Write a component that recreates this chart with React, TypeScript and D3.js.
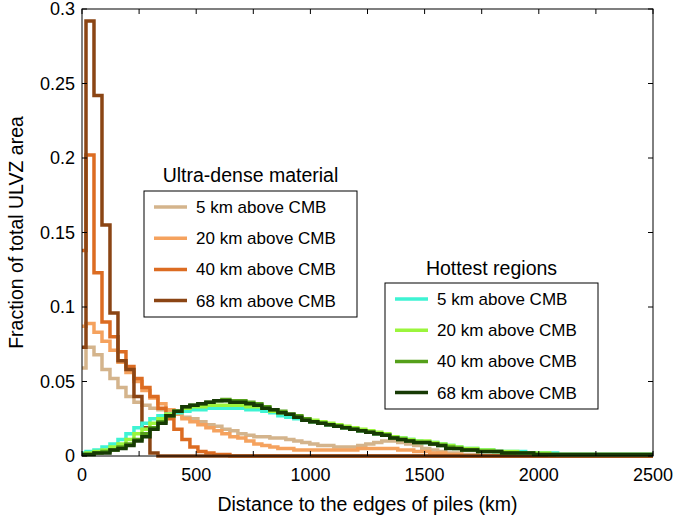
import React from "react";
import * as d3 from "d3";

// Histogram bins (km): centres every 35 km
const binWidth = 35;
const binCenters = d3.range(0, 2500, binWidth);

// Ultra-dense material
const ultra5 = [
  0.059, 0.073, 0.068, 0.058, 0.052, 0.046, 0.040, 0.036, 0.034, 0.032,
  0.031, 0.029, 0.028, 0.026, 0.025, 0.023, 0.021, 0.020, 0.018, 0.017,
  0.015, 0.014, 0.013, 0.013, 0.012, 0.012, 0.011, 0.010, 0.009, 0.008,
  0.007, 0.007, 0.006, 0.006, 0.006, 0.007, 0.008, 0.009, 0.010, 0.010,
  0.009, 0.008, 0.007, 0.005, 0.004, 0.003, 0.002, 0.002, 0.001, 0.001,
  0, 0, 0, 0, 0, 0, 0, 0, 0, 0,
  0, 0, 0, 0, 0, 0, 0, 0, 0, 0,
  0, 0,
];
const ultra20 = [
  0.087, 0.089, 0.083, 0.077, 0.071, 0.063, 0.056, 0.050, 0.044, 0.039,
  0.035, 0.031, 0.028, 0.025, 0.023, 0.021, 0.019, 0.017, 0.015, 0.013,
  0.012, 0.010, 0.008, 0.007, 0.006, 0.005, 0.005, 0.004, 0.004, 0.004,
  0.004, 0.004, 0.004, 0.004, 0.004, 0.005, 0.005, 0.005, 0.005, 0.005,
  0.004, 0.004, 0.003, 0.003, 0.002, 0.002, 0.001, 0.001, 0, 0,
  0, 0, 0, 0, 0, 0, 0, 0, 0, 0,
  0, 0, 0, 0, 0, 0, 0, 0, 0, 0,
  0, 0,
];
const ultra40 = [
  0.138, 0.202, 0.123, 0.090, 0.080, 0.070, 0.060, 0.052, 0.046, 0.040,
  0.032, 0.025, 0.018, 0.011, 0.006, 0.003, 0.002, 0.001, 0.001, 0,
  0, 0, 0, 0, 0, 0, 0, 0, 0, 0,
  0, 0, 0, 0, 0, 0, 0, 0, 0, 0,
  0, 0, 0, 0, 0, 0, 0, 0, 0, 0,
  0, 0, 0, 0, 0, 0, 0, 0, 0, 0,
  0, 0, 0, 0, 0, 0, 0, 0, 0, 0,
  0, 0,
];
const ultra68 = [
  0.073, 0.292, 0.242, 0.155, 0.096, 0.064, 0.058, 0.040, 0.019, 0.002,
  0, 0, 0, 0, 0, 0, 0, 0, 0, 0,
  0, 0, 0, 0, 0, 0, 0, 0, 0, 0,
  0, 0, 0, 0, 0, 0, 0, 0, 0, 0,
  0, 0, 0, 0, 0, 0, 0, 0, 0, 0,
  0, 0, 0, 0, 0, 0, 0, 0, 0, 0,
  0, 0, 0, 0, 0, 0, 0, 0, 0, 0,
  0, 0,
];

// Hottest regions
const hot5 = [
  0.002, 0.003, 0.004, 0.006, 0.008, 0.011, 0.015, 0.019, 0.022, 0.025,
  0.027, 0.028, 0.029, 0.030, 0.031, 0.031, 0.032, 0.032, 0.032, 0.032,
  0.032, 0.031, 0.031, 0.030, 0.029, 0.027, 0.026, 0.025, 0.024, 0.023,
  0.022, 0.021, 0.020, 0.019, 0.018, 0.017, 0.016, 0.015, 0.014, 0.013,
  0.012, 0.011, 0.010, 0.009, 0.009, 0.008, 0.007, 0.006, 0.005, 0.005,
  0.004, 0.004, 0.003, 0.003, 0.003, 0.003, 0.002, 0.002, 0.002, 0.002,
  0.001, 0.001, 0.001, 0.001, 0.001, 0.001, 0.001, 0.001, 0.001, 0.001,
  0.001, 0.001,
];
const hot20 = [
  0.001, 0.002, 0.003, 0.004, 0.006, 0.008, 0.011, 0.015, 0.018, 0.022,
  0.025, 0.028, 0.030, 0.032, 0.033, 0.033, 0.034, 0.034, 0.034, 0.034,
  0.034, 0.033, 0.033, 0.032, 0.030, 0.029, 0.028, 0.026, 0.025, 0.024,
  0.023, 0.022, 0.021, 0.020, 0.019, 0.018, 0.017, 0.016, 0.015, 0.013,
  0.012, 0.011, 0.010, 0.010, 0.009, 0.008, 0.007, 0.006, 0.005, 0.005,
  0.004, 0.004, 0.003, 0.003, 0.003, 0.002, 0.002, 0.002, 0.002, 0.001,
  0.001, 0.001, 0.001, 0.001, 0.001, 0.001, 0.001, 0.001, 0.001, 0.001,
  0.001, 0.001,
];
const hot40 = [
  0.001, 0.001, 0.002, 0.003, 0.004, 0.006, 0.008, 0.011, 0.015, 0.019,
  0.023, 0.027, 0.030, 0.033, 0.034, 0.035, 0.036, 0.037, 0.038, 0.037,
  0.037, 0.036, 0.035, 0.033, 0.031, 0.030, 0.028, 0.027, 0.025, 0.023,
  0.022, 0.021, 0.020, 0.019, 0.018, 0.017, 0.016, 0.015, 0.014, 0.012,
  0.011, 0.010, 0.009, 0.009, 0.008, 0.007, 0.006, 0.005, 0.004, 0.004,
  0.003, 0.003, 0.003, 0.002, 0.002, 0.002, 0.002, 0.001, 0.001, 0.001,
  0.001, 0.001, 0.001, 0.001, 0.001, 0.001, 0.001, 0.001, 0.001, 0.001,
  0.001, 0.001,
];
const hot68 = [
  0.001, 0.001, 0.002, 0.002, 0.004, 0.005, 0.007, 0.010, 0.013, 0.018,
  0.022, 0.027, 0.030, 0.033, 0.034, 0.035, 0.036, 0.037, 0.037, 0.036,
  0.036, 0.035, 0.034, 0.032, 0.031, 0.029, 0.028, 0.026, 0.024, 0.023,
  0.022, 0.021, 0.020, 0.019, 0.018, 0.017, 0.016, 0.015, 0.014, 0.012,
  0.011, 0.010, 0.009, 0.009, 0.008, 0.007, 0.005, 0.005, 0.004, 0.004,
  0.003, 0.003, 0.003, 0.002, 0.002, 0.002, 0.002, 0.001, 0.001, 0.001,
  0.001, 0.001, 0.001, 0.001, 0.001, 0.001, 0.001, 0.001, 0.001, 0.001,
  0.001, 0.001,
];

const ultraLabels = ["5 km above CMB", "20 km above CMB", "40 km above CMB", "68 km above CMB"];
const hotLabels = ["5 km above CMB", "20 km above CMB", "40 km above CMB", "68 km above CMB"];
const ultraColors = ["#d4b48c", "#f5a25e", "#dc6c22", "#8b4514"];
const hotColors = ["#3ef3d3", "#9bf53c", "#55a01a", "#173a05"];
const ultraSeries = [ultra5, ultra20, ultra40, ultra68];
const hotSeries = [hot5, hot20, hot40, hot68];

const xTicks = d3.range(0, 2501, 250);
const xLabels = [0, 500, 1000, 1500, 2000, 2500];
const yTicks = [0, 0.05, 0.1, 0.15, 0.2, 0.25, 0.3];

const FONT = "'Liberation Sans', Arial, Helvetica, sans-serif";

export default function App() {
  const W = 675, H = 516;
  const x = d3.scaleLinear().domain([0, 2500]).range([82, 653]);
  const y = d3.scaleLinear().domain([0, 0.3]).range([456, 9]);
  const [x0, x1] = x.range();
  const [yb, yt] = y.range();

  const line = d3
    .line<[number, number]>()
    .x((d) => x(d[0]))
    .y((d) => y(d[1]));

  const stairs = (vals: number[]) => {
    const pts: [number, number][] = [];
    vals.forEach((v, i) => {
      const c = binCenters[i];
      const a = Math.max(0, c - binWidth / 2);
      const b = Math.min(2500, c + binWidth / 2);
      pts.push([a, v], [b, v]);
    });
    return line(pts) || "";
  };

  const tickLen = 5;

  const legend = (
    title: string,
    labels: string[],
    colors: string[],
    bx: number,
    by: number,
    bw: number,
    bh: number,
    titleY: number
  ) => (
    <g>
      <text x={bx + bw / 2} y={titleY} textAnchor="middle" fontSize={19.5} fontFamily={FONT} fill="#000">
        {title}
      </text>
      <rect x={bx} y={by} width={bw} height={bh} fill="#fff" stroke="#000" strokeWidth={1} />
      {labels.map((lab, i) => {
        const cy = by + 16 + i * 31.2;
        return (
          <g key={lab + i}>
            <line x1={bx + 10} x2={bx + 43} y1={cy} y2={cy} stroke={colors[i]} strokeWidth={3.5} />
            <text x={bx + 52} y={cy} dy="0.35em" fontSize={17} fontFamily={FONT} fill="#000">
              {lab}
            </text>
          </g>
        );
      })}
    </g>
  );

  return (
    <svg width={W} height={H} style={{ position: "absolute", left: 0, top: 0, background: "#fff" }}>
      <rect x={0} y={0} width={W} height={H} fill="#fff" />
      {/* series */}
      <g fill="none" strokeWidth={3.5} strokeLinejoin="miter">
        {ultraSeries.map((s, i) => (
          <path key={"u" + i} d={stairs(s)} stroke={ultraColors[i]} />
        ))}
        {hotSeries.map((s, i) => (
          <path key={"h" + i} d={stairs(s)} stroke={hotColors[i]} />
        ))}
      </g>
      {/* axes box */}
      <rect x={x0} y={yt} width={x1 - x0} height={yb - yt} fill="none" stroke="#000" strokeWidth={1} />
      {xTicks.map((t) => (
        <g key={"xt" + t}>
          <line x1={x(t)} x2={x(t)} y1={yb} y2={yb - tickLen} stroke="#000" />
          <line x1={x(t)} x2={x(t)} y1={yt} y2={yt + tickLen} stroke="#000" />
        </g>
      ))}
      {yTicks.map((t) => (
        <g key={"yt" + t}>
          <line x1={x0} x2={x0 + tickLen} y1={y(t)} y2={y(t)} stroke="#000" />
          <line x1={x1} x2={x1 - tickLen} y1={y(t)} y2={y(t)} stroke="#000" />
          <text x={75} y={y(t)} dy="0.36em" textAnchor="end" fontSize={18} fontFamily={FONT} fill="#000">
            {String(+t.toFixed(2))}
          </text>
        </g>
      ))}
      {xLabels.map((t) => (
        <text key={"xl" + t} x={x(t)} y={481} textAnchor="middle" fontSize={18} fontFamily={FONT} fill="#000">
          {t}
        </text>
      ))}
      <text x={(x0 + x1) / 2} y={511} textAnchor="middle" fontSize={19.5} fontFamily={FONT} fill="#000">
        Distance to the edges of piles (km)
      </text>
      <text
        transform={`translate(23, ${(yb + yt) / 2}) rotate(-90)`}
        textAnchor="middle"
        fontSize={19.5}
        fontFamily={FONT}
        fill="#000"
      >
        Fraction of total ULVZ area
      </text>
      {legend("Ultra-dense material", ultraLabels, ultraColors, 144, 191, 213, 126, 182)}
      {legend("Hottest regions", hotLabels, hotColors, 385, 283, 213, 126, 275)}
    </svg>
  );
}
